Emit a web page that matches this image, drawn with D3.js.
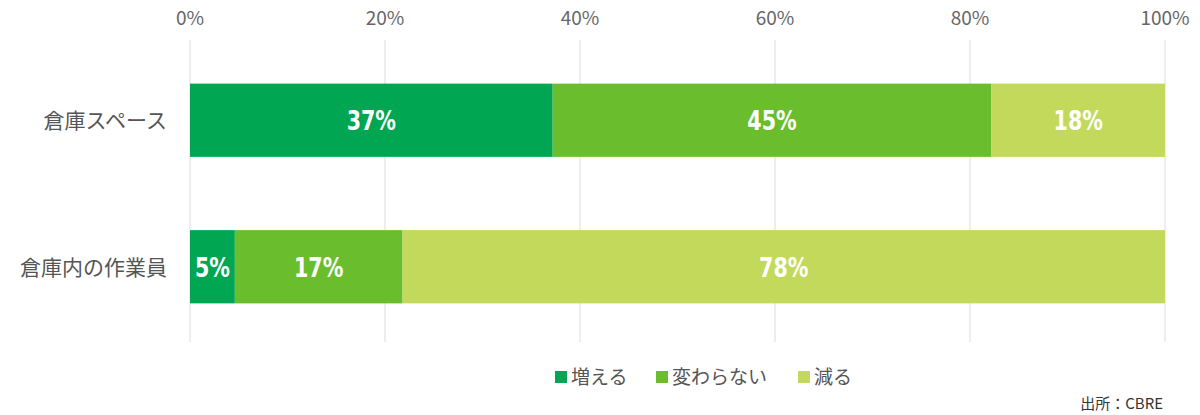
<!DOCTYPE html>
<html><head><meta charset="utf-8">
<script src="https://cdn.jsdelivr.net/npm/d3@7"></script>
<style>body{margin:0;background:#fff;}</style>
</head><body>
<svg id="c" width="1200" height="415"></svg>
<script>
const categories = ["倉庫スペース", "倉庫内の作業員"];
const seriesNames = ["増える", "変わらない", "減る"];
const increase = [37.2, 4.6];
const noChange = [45.0, 17.2];
const decrease = [17.8, 78.2];
const tickValues = [0, 20, 40, 60, 80, 100];
const colors = ["#00a651", "#6abd2c", "#c2d95b"];
const source = "出所：CBRE";

const svg = d3.select("#c");
const x = d3.scaleLinear().domain([0, 100]).range([190, 1165]);
const y = d3.scaleBand().domain(categories).range([47, 340]).paddingInner(0.5).paddingOuter(0.25);
const font = "'Noto Sans CJK JP', sans-serif";

svg.append("g").selectAll("line").data(tickValues).join("line")
  .attr("x1", d => x(d)).attr("x2", d => x(d)).attr("y1", 40).attr("y2", 342)
  .attr("stroke", "#dcdcdc").attr("stroke-width", 1);
svg.append("g").selectAll("text").data(tickValues).join("text")
  .attr("x", d => x(d)).attr("y", 25).attr("text-anchor", "middle")
  .attr("font-family", font).attr("font-size", 19).attr("fill", "#666")
  .text(d => d + "%");

const series = [increase, noChange, decrease];
categories.forEach((c, i) => {
  let acc = 0;
  series.forEach((s, j) => {
    const v = s[i], x0 = acc; acc += v;
    svg.append("rect").attr("x", x(x0)).attr("width", x(acc) - x(x0))
      .attr("y", y(c)).attr("height", y.bandwidth()).attr("fill", colors[j]);
    svg.append("text").attr("x", (x(x0) + x(acc)) / 2).attr("y", y(c) + y.bandwidth() / 2 + 10)
      .attr("text-anchor", "middle").attr("fill", "#fff")
      .attr("font-family", "'DejaVu Sans Condensed', 'DejaVu Sans', sans-serif")
      .attr("font-weight", "bold").attr("font-size", 27)
      .attr("transform", `translate(${(x(x0) + x(acc)) / 2},0) scale(0.85,1) translate(${-(x(x0) + x(acc)) / 2},0)`)
      .text(Math.round(v) + "%");
  });
  svg.append("text").attr("x", 167).attr("y", y(c) + y.bandwidth() / 2 + 8)
    .attr("text-anchor", "end").attr("font-family", font).attr("font-size", 21).attr("fill", "#555")
    .text(c);
});

const legX = [555, 656, 798];
seriesNames.forEach((n, j) => {
  svg.append("rect").attr("x", legX[j]).attr("y", 371).attr("width", 12).attr("height", 12).attr("fill", colors[j]);
  svg.append("text").attr("x", legX[j] + 16).attr("y", 384).attr("font-family", font)
    .attr("font-size", 19).attr("fill", "#555").text(n);
});
svg.append("text").attr("x", 1163).attr("y", 409).attr("text-anchor", "end")
  .attr("font-family", font).attr("font-size", 15).attr("fill", "#333").text(source);
</script>
</body></html>
